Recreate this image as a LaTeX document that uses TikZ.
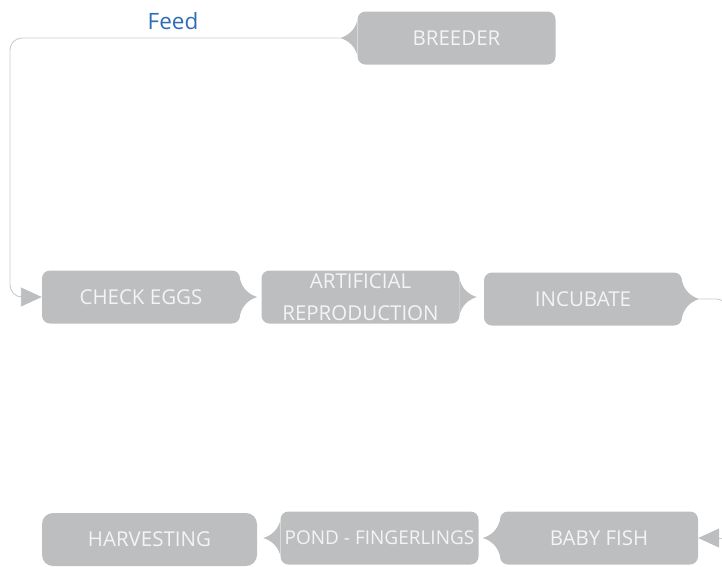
\documentclass[tikz,border=0pt]{standalone}
\usepackage{fontspec}
\setmainfont{Open Sans}
\usetikzlibrary{arrows.meta,calc}

\definecolor{stagegray}{HTML}{BDBEC0}
\definecolor{stagetext}{HTML}{F4F4F4}
\definecolor{linkgray}{HTML}{CBCBCB}
\definecolor{feedblue}{HTML}{2F6DB5}

\tikzset{
  stage/.style={rectangle, rounded corners=8pt, fill=stagegray, text=stagetext,
    minimum width=198pt, minimum height=53pt, inner sep=0pt, align=center,
    font=\fontsize{20.5}{32}\selectfont},
  link/.style={draw=linkgray, line width=0.9pt},
  tip/.style={-{Triangle[length=21pt, width=19pt, color=stagegray]}},
}

% pointer bumps on the side of a stage box
\newcommand{\bumpright}[1]{%
  \fill[stagegray] ([yshift=17pt]#1.east) .. controls +(3pt,-9pt) and +(-9pt,3pt) ..
    ([xshift=17pt]#1.east) .. controls +(-9pt,-3pt) and +(3pt,9pt) ..
    ([yshift=-17pt]#1.east) -- cycle;}
\newcommand{\bumpleft}[1]{%
  \fill[stagegray] ([yshift=17pt]#1.west) .. controls +(-3pt,-9pt) and +(9pt,3pt) ..
    ([xshift=-17pt]#1.west) .. controls +(9pt,-3pt) and +(-3pt,9pt) ..
    ([yshift=-17pt]#1.west) -- cycle;}

\begin{document}
\begin{tikzpicture}[x=1pt, y=-1pt]
  \useasboundingbox (0,0) rectangle (722,566);
  \clip (0,0) rectangle (722,566);

  % top row
  \node[stage] (breeder) at (456.5,38) {BREEDER};
  \bumpleft{breeder}
  \node[text=feedblue, font=\fontsize{22.5}{24}\selectfont] (feed) at (173,21) {Feed};

  % middle row
  \node[stage] (check) at (141,297) {CHECK EGGS};
  \node[stage] (artificial) at (360.5,297) {ARTIFICIAL\\REPRODUCTION};
  \node[stage] (incubate) at (583,299) {INCUBATE};
  \bumpright{check}
  \bumpright{artificial}
  \bumpright{incubate}

  % bottom row
  \node[stage, minimum width=215pt, rounded corners=11pt] (harvest) at (149.5,539.5) {HARVESTING};
  \node[stage, font=\fontsize{19}{32}\selectfont] (pond) at (379.5,538) {POND - FINGERLINGS};
  \node[stage] (babyfish) at (599,538) {BABY FISH};
  \bumpleft{pond}
  \bumpleft{babyfish}

  % connectors
  \coordinate (feedstart) at ([xshift=-17pt]breeder.west);
  \draw[link, tip, rounded corners=12pt] (feedstart) -- (10,38) -- (10,297) -- (check.west);
  \coordinate (incout) at ([xshift=17pt]incubate.east);
  \draw[link, rounded corners=8pt] (incout) -- (725,299) -- (725,330);
  \coordinate (fishin) at (740,538);
  \draw[link, tip] (fishin) -- (babyfish.east);
\end{tikzpicture}
\end{document}
